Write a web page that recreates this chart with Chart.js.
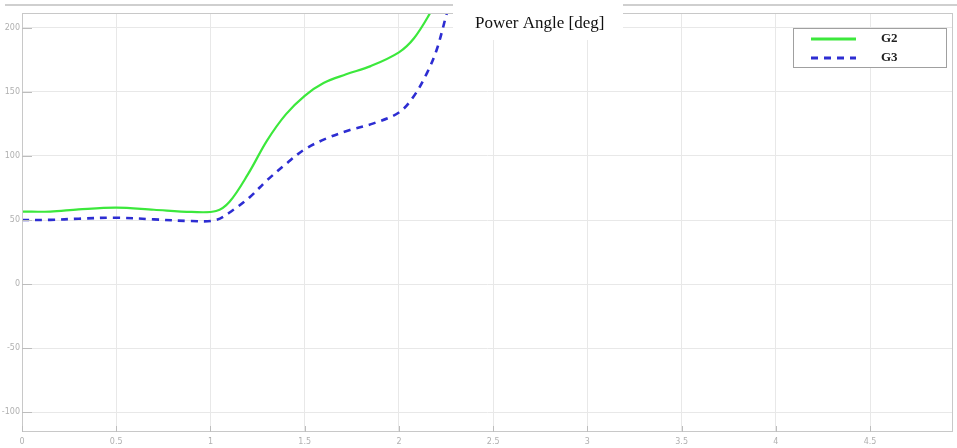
<!DOCTYPE html>
<html>
<head>
<meta charset="utf-8">
<script src="https://cdn.jsdelivr.net/npm/chart.js@4"></script>
<style>
html,body{margin:0;padding:0;background:#fff;}
canvas{display:block;}
</style>
</head>
<body>
<canvas id="c" width="957" height="448"></canvas>
<script>
// ---- data ----
const chartTitle = "Power Angle [deg]";
const seriesNames = ["G2", "G3"];
const xTickLabels = ["0", "0.5", "1", "1.5", "2", "2.5", "3", "3.5", "4", "4.5"];
const yTickLabels = ["-100", "-50", "0", "50", "100", "150", "200"];

const g2Time   = [0, 0.15, 0.3, 0.5, 0.7, 0.9, 1.03, 1.1, 1.2, 1.30, 1.4, 1.5, 1.6, 1.72, 1.85, 2.0, 2.08, 2.165, 2.2];
const g2Values = [56.5, 56.6, 58.3, 59.7, 58, 56.3, 57, 64, 86, 112, 132.5, 147, 157, 163.8, 170.2, 181, 192, 211.5, 222];

const g3Time   = [0, 0.15, 0.3, 0.5, 0.7, 0.9, 1.03, 1.12, 1.21, 1.30, 1.405, 1.5, 1.617, 1.74, 1.865, 2.0, 2.077, 2.148, 2.2, 2.254, 2.28];
const g3Values = [50, 50.1, 51, 51.8, 50.5, 49.2, 50, 57.8, 68, 81, 94.3, 105.2, 113.8, 120.3, 125.5, 134, 146.3, 164.6, 182.8, 211.5, 225];

const toPoints = (xs, ys) => xs.map((x, i) => ({x: x, y: ys[i]}));

const GREEN = "rgb(60,232,60)";
const BLUE = "rgb(45,45,210)";

// frame, inward ticks, top band, title box, legend
const decor = {
  id: "decor",
  afterDraw(chart) {
    const ctx = chart.ctx;
    const a = chart.chartArea;
    const xs = chart.scales.x, ys = chart.scales.y;
    ctx.save();
    // plot frame
    ctx.strokeStyle = "#c8c8c8";
    ctx.lineWidth = 1;
    ctx.strokeRect(a.left + 0.5, a.top + 0.5, a.right - a.left - 1, a.bottom - a.top - 1);
    // inward ticks
    ctx.strokeStyle = "#bdbdbd";
    ys.ticks.forEach(t => {
      const y = Math.round(ys.getPixelForValue(t.value)) + 0.5;
      ctx.beginPath(); ctx.moveTo(a.left, y); ctx.lineTo(a.left + 10, y); ctx.stroke();
    });
    xs.ticks.forEach(t => {
      const x = Math.round(xs.getPixelForValue(t.value)) + 0.5;
      ctx.beginPath(); ctx.moveTo(x, a.bottom); ctx.lineTo(x, a.bottom - 6); ctx.stroke();
    });
    // top grey band
    ctx.fillStyle = "#cfcfcf";
    ctx.fillRect(5, 4, chart.width - 5, 2);
    // title box
    ctx.fillStyle = "#ffffff";
    ctx.fillRect(453, 0, 170, 40);
    ctx.fillStyle = "#111";
    ctx.font = "17px 'Liberation Serif', 'DejaVu Serif', serif";
    ctx.textBaseline = "alphabetic";
    ctx.textAlign = "left";
    ctx.fillText(chartTitle, 475, 28);
    // legend
    const lx = 793, ly = 28, lw = 153, lh = 39;
    ctx.fillStyle = "#fff";
    ctx.fillRect(lx, ly, lw, lh);
    ctx.strokeStyle = "#a0a0a0";
    ctx.lineWidth = 1;
    ctx.strokeRect(lx + 0.5, ly + 0.5, lw, lh);
    const ds = chart.data.datasets;
    const rows = [39, 58];
    ctx.font = "bold 13px 'Liberation Serif', 'DejaVu Serif', serif";
    ctx.textBaseline = "middle";
    ds.forEach((d, i) => {
      ctx.strokeStyle = d.borderColor;
      ctx.lineWidth = 3;
      ctx.setLineDash(d.borderDash || []);
      ctx.beginPath(); ctx.moveTo(811, rows[i]); ctx.lineTo(856, rows[i]); ctx.stroke();
      ctx.setLineDash([]);
      ctx.fillStyle = "#222";
      ctx.fillText(d.label, 881, rows[i]);
    });
    ctx.restore();
  }
};

new Chart(document.getElementById("c"), {
  type: "line",
  data: {
    datasets: [
      {label: seriesNames[0], data: toPoints(g2Time, g2Values), borderColor: GREEN, borderWidth: 2.2, pointRadius: 0, tension: 0.35, fill: false},
      {label: seriesNames[1], data: toPoints(g3Time, g3Values), borderColor: BLUE, borderWidth: 2.6, borderDash: [7, 6], pointRadius: 0, tension: 0.35, fill: false}
    ]
  },
  options: {
    responsive: false,
    animation: false,
    devicePixelRatio: 1,
    layout: {padding: {top: 13, right: 4, left: 0, bottom: 0}},
    plugins: {legend: {display: false}, title: {display: false}, tooltip: {enabled: false}},
    scales: {
      x: {
        type: "linear", min: 0, max: 4.94,
        afterFit: s => { s.height = 16; },
        grid: {color: "#e8e8e8", drawTicks: false},
        border: {display: false},
        ticks: {
          stepSize: 0.5, includeBounds: false, autoSkip: false, maxRotation: 0, padding: 5,
          color: "#b0b0b0", font: {size: 8, family: "'DejaVu Sans', sans-serif"},
          callback: v => xTickLabels[Math.round(v / 0.5)] ?? ""
        }
      },
      y: {
        type: "linear", min: -115.6, max: 211.7,
        afterFit: s => { s.width = 22; },
        grid: {color: "#e8e8e8", drawTicks: false},
        border: {display: false},
        ticks: {
          stepSize: 50, includeBounds: false, padding: 2,
          color: "#b0b0b0", font: {size: 8, family: "'DejaVu Sans', sans-serif"},
          callback: v => yTickLabels[Math.round((v + 100) / 50)] ?? ""
        }
      }
    }
  },
  plugins: [decor]
});
</script>
</body>
</html>
